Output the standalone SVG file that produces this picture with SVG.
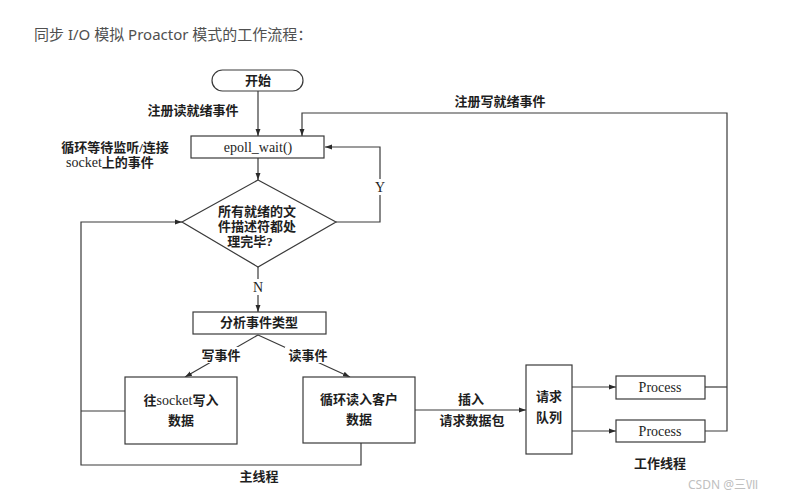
<svg xmlns="http://www.w3.org/2000/svg" width="786" height="499" viewBox="0 0 786 499">
<defs>
<marker id="ah" viewBox="0 0 10 10" refX="10" refY="5" markerWidth="7" markerHeight="7" orient="auto" markerUnits="userSpaceOnUse">
<path d="M0,1.5 L10,5 L0,8.5 z" fill="#2a2a2a"/>
</marker>
<style>
.box{fill:#fff;stroke:#3a3a3a;stroke-width:1.2}
.ln{fill:none;stroke:#3a3a3a;stroke-width:1.2}
.t{font-family:"Liberation Serif","Noto Sans CJK SC",serif;font-size:13px;fill:#1e1e1e;font-weight:bold;text-anchor:middle}
.tl{font-family:"Liberation Serif","Noto Sans CJK SC",serif;font-size:13px;fill:#1e1e1e;font-weight:bold}
.lat{font-family:"Liberation Serif",serif;font-size:14px;fill:#1e1e1e;font-weight:normal;text-anchor:middle}
.bg{fill:#fff}
</style>
</defs>
<rect width="786" height="499" fill="#fff"/>
<text x="34" y="40" font-family="'Noto Sans','Noto Sans CJK SC',sans-serif" font-size="15" fill="#505050">同步 I/O 模拟 Proactor 模式的工作流程：</text>

<g id="connectors">
<path class="ln" d="M258,91 V136" marker-end="url(#ah)"/>
<path class="ln" d="M258,158 V180" marker-end="url(#ah)"/>
<path class="ln" d="M336,222 H380 V147 H325" marker-end="url(#ah)"/>
<path class="ln" d="M258,267 V312" marker-end="url(#ah)"/>
<path class="ln" d="M258,335 L185,377" marker-end="url(#ah)"/>
<path class="ln" d="M258,335 L350,377" marker-end="url(#ah)"/>
<path class="ln" d="M361,443 V465 H81 V222 H182" marker-end="url(#ah)"/>
<path class="ln" d="M125,411 H81"/>
<path class="ln" d="M415,410 H526" marker-end="url(#ah)"/>
<path class="ln" d="M572,387 H616" marker-end="url(#ah)"/>
<path class="ln" d="M572,431 H616" marker-end="url(#ah)"/>
<path class="ln" d="M705,387 H727"/>
<path class="ln" d="M705,431 H727 V113 H302 V136" marker-end="url(#ah)"/>
<rect class="bg" x="373" y="179" width="14" height="16"/>
<text class="lat" x="380" y="192">Y</text>
<rect class="bg" x="251" y="279" width="14" height="16"/>
<text class="lat" x="258" y="292">N</text>
<rect class="bg" x="198" y="347" width="46" height="16"/>
<text class="t" x="221" y="360">写事件</text>
<rect class="bg" x="285" y="347" width="46" height="16"/>
<text class="t" x="308" y="360">读事件</text>
<text class="t" x="471" y="404">插入</text>
<text class="t" x="472" y="425">请求数据包</text>
<text class="t" x="500" y="106">注册写就绪事件</text>
<text class="t" x="193" y="115">注册读就绪事件</text>
<text class="t" x="115" y="152">循环等待监听/连接</text>
<text class="tl" x="66" y="167"><tspan font-weight="normal" font-size="14">socket</tspan>上的事件</text>
<text class="t" x="259" y="481">主线程</text>
<text class="t" x="660" y="468">工作线程</text>
</g>

<g id="start">
<rect class="box" x="212" y="70" width="91" height="21" rx="10.5"/>
<text class="t" x="258" y="85">开始</text>
</g>
<g id="epoll">
<rect class="box" x="191" y="136" width="133" height="22"/>
<text class="lat" x="258" y="152">epoll_wait()</text>
</g>
<g id="decision">
<path class="box" d="M258,180 L336,222 L258,267 L182,222 Z"/>
<text class="t" x="257" y="216">所有就绪的文</text>
<text class="t" x="257" y="231">件描述符都处</text>
<text class="t" x="250" y="246">理完毕?</text>
</g>
<g id="analyze">
<rect class="box" x="193" y="312" width="133" height="22"/>
<text class="t" x="259" y="327">分析事件类型</text>
</g>
<g id="write">
<rect class="box" x="125" y="377" width="112" height="67"/>
<text class="t" x="181" y="405">往<tspan font-weight="normal" font-size="14">socket</tspan>写入</text>
<text class="t" x="181" y="425">数据</text>
</g>
<g id="read">
<rect class="box" x="303" y="377" width="112" height="66"/>
<text class="t" x="359" y="404">循环读入客户</text>
<text class="t" x="359" y="424">数据</text>
</g>
<g id="queue">
<rect class="box" x="526" y="365" width="46" height="89"/>
<text class="t" x="549" y="401">请求</text>
<text class="t" x="549" y="422">队列</text>
</g>
<g id="process1">
<rect class="box" x="616" y="376" width="89" height="23"/>
<text class="lat" x="660" y="392">Process</text>
</g>
<g id="process2">
<rect class="box" x="616" y="420" width="89" height="22"/>
<text class="lat" x="660" y="436">Process</text>
</g>
<text x="688" y="489" font-family="'Noto Sans','Noto Sans CJK SC',sans-serif" font-size="12" fill="#c0c0c0">CSDN @三Ⅶ</text>
</svg>
